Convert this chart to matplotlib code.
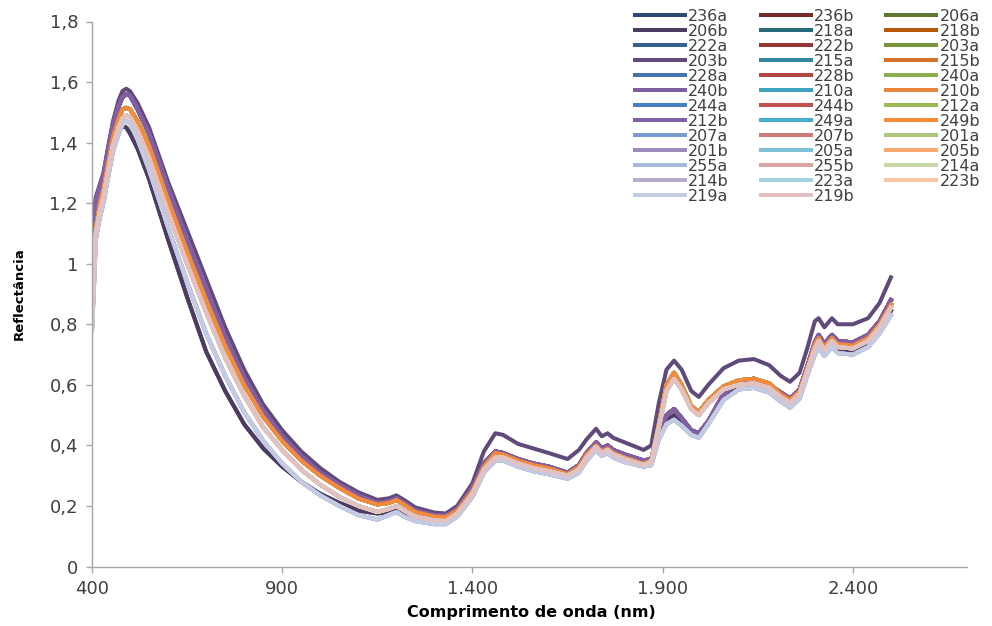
import matplotlib
matplotlib.use("Agg")
import matplotlib.pyplot as plt
from matplotlib.lines import Line2D

# wavelength knots (nm)
wl = [400, 405, 410, 420, 430, 440, 455, 470, 480, 490, 500, 520, 550, 600, 650,
      700, 750, 800, 850, 900, 950, 1000, 1050, 1100, 1150, 1180, 1200, 1220, 1250,
      1300, 1330, 1360, 1400, 1430, 1460, 1480, 1520, 1560, 1600, 1650, 1680, 1700,
      1725, 1740, 1755, 1770, 1800, 1850, 1870, 1890, 1910, 1930, 1950, 1975, 1995,
      2020, 2060, 2100, 2140, 2180, 2210, 2235, 2260, 2280, 2300, 2310, 2325, 2345,
      2360, 2400, 2440, 2470, 2500]

# reflectance profiles (top curve, high, mid, peach, light, dark-low)
refl_top = [1.05, 1.17, 1.22, 1.26, 1.30, 1.37, 1.47, 1.54, 1.57, 1.578, 1.57, 1.53, 1.45, 1.27, 1.11,
            0.95, 0.79, 0.65, 0.535, 0.45, 0.38, 0.325, 0.28, 0.245, 0.22, 0.225, 0.235, 0.22, 0.195,
            0.178, 0.175, 0.20, 0.275, 0.38, 0.44, 0.435, 0.405, 0.39, 0.375, 0.355, 0.385, 0.42,
            0.455, 0.43, 0.44, 0.425, 0.41, 0.385, 0.40, 0.54, 0.65, 0.68, 0.65, 0.58, 0.56,
            0.60, 0.655, 0.68, 0.685, 0.665, 0.63, 0.61, 0.64, 0.72, 0.81, 0.82, 0.79, 0.82,
            0.80, 0.80, 0.82, 0.87, 0.955]
refl_high = [1.00, 1.15, 1.20, 1.25, 1.29, 1.36, 1.46, 1.52, 1.55, 1.56, 1.555, 1.51, 1.43, 1.25, 1.08,
             0.92, 0.76, 0.625, 0.515, 0.43, 0.365, 0.31, 0.27, 0.235, 0.21, 0.215, 0.225, 0.21, 0.185,
             0.17, 0.168, 0.19, 0.26, 0.34, 0.38, 0.375, 0.355, 0.34, 0.33, 0.31, 0.335, 0.375,
             0.41, 0.39, 0.40, 0.385, 0.37, 0.35, 0.355, 0.44, 0.50, 0.52, 0.49, 0.45, 0.44,
             0.48, 0.57, 0.61, 0.62, 0.60, 0.575, 0.555, 0.585, 0.66, 0.74, 0.765, 0.735, 0.765,
             0.745, 0.74, 0.765, 0.81, 0.88]
refl_mid = [0.82, 1.00, 1.12, 1.20, 1.25, 1.32, 1.42, 1.48, 1.51, 1.515, 1.51, 1.47, 1.39, 1.21, 1.04,
            0.88, 0.73, 0.60, 0.495, 0.415, 0.35, 0.30, 0.26, 0.225, 0.205, 0.21, 0.22, 0.205, 0.18,
            0.165, 0.163, 0.185, 0.25, 0.33, 0.375, 0.37, 0.35, 0.335, 0.325, 0.305, 0.33, 0.37,
            0.40, 0.38, 0.39, 0.375, 0.36, 0.34, 0.35, 0.47, 0.60, 0.64, 0.60, 0.53, 0.51,
            0.55, 0.595, 0.615, 0.62, 0.605, 0.57, 0.55, 0.58, 0.655, 0.735, 0.755, 0.725, 0.755,
            0.735, 0.73, 0.755, 0.80, 0.865]
refl_peach = [0.79, 0.95, 1.10, 1.17, 1.22, 1.29, 1.39, 1.45, 1.48, 1.49, 1.485, 1.44, 1.35, 1.17, 1.00,
              0.84, 0.69, 0.565, 0.46, 0.385, 0.32, 0.27, 0.23, 0.20, 0.18, 0.19, 0.20, 0.185, 0.165,
              0.152, 0.15, 0.175, 0.24, 0.32, 0.36, 0.36, 0.34, 0.325, 0.315, 0.30, 0.32, 0.36,
              0.395, 0.375, 0.385, 0.37, 0.355, 0.335, 0.345, 0.46, 0.58, 0.62, 0.585, 0.52, 0.50,
              0.54, 0.585, 0.60, 0.605, 0.59, 0.56, 0.54, 0.57, 0.645, 0.72, 0.745, 0.715, 0.745,
              0.725, 0.72, 0.745, 0.79, 0.855]
refl_light = [0.78, 0.92, 1.08, 1.15, 1.20, 1.27, 1.37, 1.43, 1.46, 1.47, 1.465, 1.41, 1.31, 1.12, 0.94,
              0.77, 0.63, 0.51, 0.415, 0.34, 0.28, 0.235, 0.20, 0.17, 0.155, 0.17, 0.18, 0.165, 0.15,
              0.14, 0.14, 0.165, 0.23, 0.31, 0.35, 0.35, 0.33, 0.315, 0.305, 0.29, 0.31, 0.35,
              0.385, 0.365, 0.375, 0.36, 0.345, 0.33, 0.335, 0.42, 0.47, 0.485, 0.465, 0.435, 0.425,
              0.47, 0.55, 0.585, 0.59, 0.575, 0.545, 0.525, 0.555, 0.63, 0.70, 0.725, 0.695, 0.725,
              0.705, 0.70, 0.725, 0.77, 0.83]
refl_low = [1.07, 1.15, 1.19, 1.23, 1.27, 1.33, 1.41, 1.44, 1.455, 1.45, 1.43, 1.38, 1.28, 1.08, 0.89,
            0.71, 0.58, 0.47, 0.39, 0.33, 0.28, 0.24, 0.21, 0.185, 0.175, 0.18, 0.19, 0.175, 0.158,
            0.145, 0.145, 0.17, 0.235, 0.315, 0.355, 0.355, 0.335, 0.32, 0.31, 0.295, 0.315, 0.355,
            0.39, 0.37, 0.38, 0.365, 0.35, 0.33, 0.34, 0.43, 0.48, 0.50, 0.475, 0.44, 0.43,
            0.475, 0.56, 0.595, 0.60, 0.585, 0.55, 0.53, 0.56, 0.64, 0.71, 0.735, 0.705, 0.735,
            0.715, 0.71, 0.735, 0.78, 0.845]

profiles = {'top': refl_top, 'high': refl_high, 'mid': refl_mid,
            'peach': refl_peach, 'light': refl_light, 'low': refl_low}

samples = ['236a', '236b', '206a', '206b', '218a', '218b', '222a', '222b', '203a', '203b',
           '215a', '215b', '228a', '228b', '240a', '240b', '210a', '210b', '244a', '244b',
           '212a', '212b', '249a', '249b', '207a', '207b', '201a', '201b', '205a', '205b',
           '255a', '255b', '214a', '214b', '223a', '223b', '219a', '219b']
sample_profile = ['low', 'high', 'high', 'low', 'mid', 'high', 'high', 'high', 'mid', 'top',
                  'mid', 'mid', 'high', 'high', 'mid', 'high', 'peach', 'mid', 'high', 'high',
                  'mid', 'high', 'peach', 'mid', 'light', 'peach', 'peach', 'light', 'peach', 'peach',
                  'light', 'peach', 'peach', 'light', 'peach', 'peach', 'light', 'peach']
colors = ['#2B4A73', '#772C2A', '#5F7530', '#4D3B62', '#276A7C', '#B65708',
          '#376092', '#953735', '#77933C', '#604A7B', '#31859C', '#D4742C',
          '#4672B0', '#B04744', '#8CAE4F', '#7B5FA0', '#3FA3BE', '#E8863E',
          '#4A7EC4', '#C0504D', '#9BBB59', '#7F5FA8', '#45AFCB', '#F48A3A',
          '#7B9CD1', '#CD7B79', '#ACC67E', '#9E8BBC', '#7DC1D6', '#F9A873',
          '#A7B9DA', '#D9A5A4', '#C7D8A8', '#B7ABCB', '#A5D2DF', '#FAC7A5',
          '#C3CCE3', '#E3C1C0']

xticks = [400, 900, 1400, 1900, 2400]
xtick_labels = ['400', '900', '1.400', '1.900', '2.400']
yticks = [0, 0.2, 0.4, 0.6, 0.8, 1.0, 1.2, 1.4, 1.6, 1.8]
ytick_labels = ['0', '0,2', '0,4', '0,6', '0,8', '1', '1,2', '1,4', '1,6', '1,8']

fig = plt.figure(figsize=(9.92, 6.26), dpi=100)
ax = fig.add_axes([92/992, 59.5/626, 875/992, 545/626])

handles = {}
for name, prof, col in zip(samples, sample_profile, colors):
    ax.plot(wl, profiles[prof], color=col, lw=2.9, solid_joinstyle='round')
    handles[name] = Line2D([], [], color=col, lw=2.9)

ax.set_xlim(400, 2700)
ax.set_ylim(0, 1.8)
ax.set_xticks(xticks)
ax.set_xticklabels(xtick_labels)
ax.set_yticks(yticks)
ax.set_yticklabels(ytick_labels)
for s in ['top', 'right']:
    ax.spines[s].set_visible(False)
for s in ['left', 'bottom']:
    ax.spines[s].set_color('#A6A6A6')
    ax.spines[s].set_linewidth(1.0)
ax.tick_params(direction='out', length=4, width=1, color='#A6A6A6',
               labelsize=13, labelcolor='#404040', pad=6)

fig.text(19/992, 1 - 294/626, 'Reflectância', rotation=90, ha='center', va='center',
         fontsize=9.5, fontweight='bold', color='#000000')
fig.text(531/992, 1 - 613/626, 'Comprimento de onda (nm)', ha='center', va='center',
         fontsize=11.5, fontweight='bold')

# legend is filled column by column; reorder so rows read like the original
order = [samples[i::3] for i in range(3)]
col_major = [n for col in order for n in col]
fig.legend([handles[n] for n in col_major], col_major, loc='upper left',
           bbox_to_anchor=(635/992, 1 - 9/626), ncol=3, frameon=False,
           fontsize=11.5, handlelength=3.13, handletextpad=0.19, columnspacing=2.0,
           labelspacing=0.0, borderpad=0, borderaxespad=0, labelcolor='#404040')

fig.savefig('out.png', dpi=100)
